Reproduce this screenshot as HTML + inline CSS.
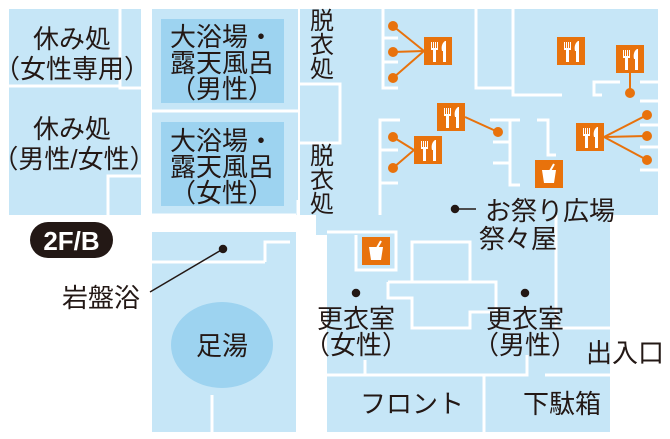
<!DOCTYPE html>
<html><head><meta charset="utf-8"><style>
html,body{margin:0;padding:0;background:#fff}
svg{display:block}
text{font-family:"Liberation Sans","Noto Sans CJK JP",sans-serif;fill:#231815}
</style></head><body>
<svg width="670" height="439" viewBox="0 0 670 439" xmlns="http://www.w3.org/2000/svg">
<g fill="#c6e6f7">
<rect x="9" y="9" width="132" height="206"/>
<rect x="152" y="9" width="146" height="206"/>
<rect x="300" y="9" width="358" height="206"/>
<rect x="316" y="215" width="294" height="20"/>
<rect x="152" y="232" width="144" height="200"/>
<rect x="327" y="232" width="283" height="200"/>
</g>
<g stroke="#fff" stroke-width="3" fill="none">
<line x1="9" y1="86" x2="121" y2="86"/>
<polyline points="120,9 120,88 141,88"/>
<polyline points="141,176 108,176 108,215"/>
<line x1="152" y1="111" x2="298" y2="111"/>
<line x1="152" y1="215" x2="296" y2="215"/>
<polyline points="300,84 340,84 340,143 300,143"/>
<polyline points="298,200 298,215"/>
<line x1="152" y1="262" x2="265" y2="262"/>
<polyline points="265,262 265,242 290,242"/>
<line x1="212" y1="395" x2="212" y2="432"/>
<polyline points="383,9 383,88 398,88"/>
<line x1="383" y1="38" x2="398" y2="38"/>
<line x1="383" y1="62" x2="398" y2="62"/>
<polyline points="476,9 476,88 513,88 513,95 562,95"/>
<line x1="513" y1="9" x2="513" y2="88"/>
<polyline points="602,95 594,95 594,82 620,82"/>
<line x1="640" y1="82" x2="658" y2="82"/>
<line x1="640" y1="101" x2="658" y2="101"/>
<polyline points="400,120 380,120 380,215"/>
<line x1="380" y1="150" x2="398" y2="150"/>
<line x1="380" y1="183" x2="398" y2="183"/>
<line x1="490" y1="120" x2="520" y2="120"/>
<polyline points="510,120 510,185 520,185"/>
<line x1="493" y1="142" x2="510" y2="142"/>
<line x1="493" y1="163" x2="510" y2="163"/>
<polyline points="537,120 548,120 548,155 556,155"/>
<line x1="640" y1="125" x2="658" y2="125"/>
<line x1="640" y1="147" x2="658" y2="147"/>
<line x1="640" y1="170" x2="658" y2="170"/>
<polyline points="327,232 396,232 396,270 356,270 356,235"/>
<polyline points="412,282 412,242 470,242 470,282"/>
<polyline points="388,282 388,298 412,298 412,328 470,328 470,312 496,312 496,282 388,282"/>
<polyline points="556,215 556,328 610,328"/>
<line x1="327" y1="375" x2="484" y2="375"/>
<polyline points="365,360 365,375"/>
<polyline points="484,432 484,375 527,375 527,355"/>
<line x1="545" y1="375" x2="610" y2="375"/>
</g>
<rect x="296" y="262" width="31" height="172" fill="#fff"/>
<rect x="296" y="218" width="20" height="14" fill="#fff"/>
<rect x="610" y="215" width="60" height="224" fill="#fff"/>
<rect x="161" y="19" width="123" height="84" fill="#9dd3f0"/>
<rect x="161" y="122" width="123" height="84" fill="#9dd3f0"/>
<ellipse cx="222" cy="345" rx="51" ry="43" fill="#9dd3f0"/>
<rect x="30" y="222" width="83" height="36" rx="18" fill="#231815"/>
<text x="71.5" y="250" font-size="26" text-anchor="middle" style="fill:#fff;font-weight:bold">2F/B</text>
<g stroke="#e8720c" stroke-width="2" fill="#e8720c">
<line x1="424" y1="51" x2="393" y2="26"/><line x1="424" y1="51" x2="393" y2="52"/><line x1="424" y1="51" x2="393" y2="78"/>
<circle cx="393" cy="26" r="4"/><circle cx="393" cy="52" r="4"/><circle cx="393" cy="78" r="4"/>
<line x1="630" y1="73" x2="630" y2="93"/><circle cx="630" cy="93" r="4"/>
<line x1="465" y1="117" x2="498" y2="132"/><circle cx="498" cy="132" r="4"/>
<line x1="414" y1="150" x2="393" y2="137"/><line x1="414" y1="150" x2="393" y2="168"/>
<circle cx="393" cy="137" r="4"/><circle cx="393" cy="168" r="4"/>
<line x1="604" y1="137" x2="647" y2="115"/><line x1="604" y1="137" x2="647" y2="136"/><line x1="604" y1="137" x2="647" y2="160"/>
<circle cx="647" cy="115" r="4"/><circle cx="647" cy="136" r="4"/><circle cx="647" cy="160" r="4"/>
</g>
<defs>
<g id="fk">
<rect width="28" height="28" fill="#e8720c"/>
<path d="M7 5v8h2v12h3V13h2V5h-1v6h-1V5h-1v6h-1V5h-1v6H8V5z" fill="#fff"/>
<path d="M21 4c-3 2-4 6-3 10h1v11h3V4z" fill="#fff"/>
</g>
<g id="cup">
<rect width="28" height="28" fill="#e8720c"/>
<path d="M7 10h14l-2 13h-10z" fill="#fff"/>
<line x1="15" y1="11" x2="19" y2="4" stroke="#fff" stroke-width="2"/>
</g>
</defs>
<use href="#fk" x="424" y="37"/>
<use href="#fk" x="557" y="37"/>
<use href="#fk" x="616" y="45"/>
<use href="#fk" x="437" y="103"/>
<use href="#fk" x="414" y="136"/>
<use href="#fk" x="576" y="123"/>
<use href="#cup" x="535" y="160"/>
<use href="#cup" x="362" y="237"/>
<g fill="#231815" stroke="#231815" stroke-width="1.5">
<circle cx="223" cy="249" r="3.5"/><line x1="223" y1="249" x2="150" y2="292"/>
<circle cx="455" cy="209" r="3.5"/><line x1="455" y1="209" x2="476" y2="209"/>
<circle cx="356" cy="293" r="3.5"/><circle cx="525" cy="293" r="3.5"/>
</g>
<g font-size="26" text-anchor="middle">
<text x="72" y="48">休み処</text>
<text x="72" y="78">（女性専用）</text>
<text x="72" y="138">休み処</text>
<text x="74" y="168">（男性/女性）</text>
<text x="222" y="46">大浴場・</text>
<text x="222" y="72">露天風呂</text>
<text x="222" y="98">（男性）</text>
<text x="222" y="150">大浴場・</text>
<text x="222" y="176">露天風呂</text>
<text x="222" y="202">（女性）</text>
<text x="101" y="307">岩盤浴</text>
<text x="222" y="355">足湯</text>
<text x="356" y="328">更衣室</text>
<text x="356" y="354">（女性）</text>
<text x="525" y="328">更衣室</text>
<text x="525" y="354">（男性）</text>
<text x="625" y="362">出入口</text>
<text x="412" y="413">フロント</text>
<text x="562" y="413">下駄箱</text>
<text x="550" y="220">お祭り広場</text>
<text x="518" y="248">祭々屋</text>
</g>
<g font-size="24" text-anchor="middle">
<text x="322" y="29">脱</text><text x="322" y="53">衣</text><text x="322" y="77">処</text>
<text x="322" y="164">脱</text><text x="322" y="188">衣</text><text x="322" y="212">処</text>
</g>
</svg>
</body></html>
